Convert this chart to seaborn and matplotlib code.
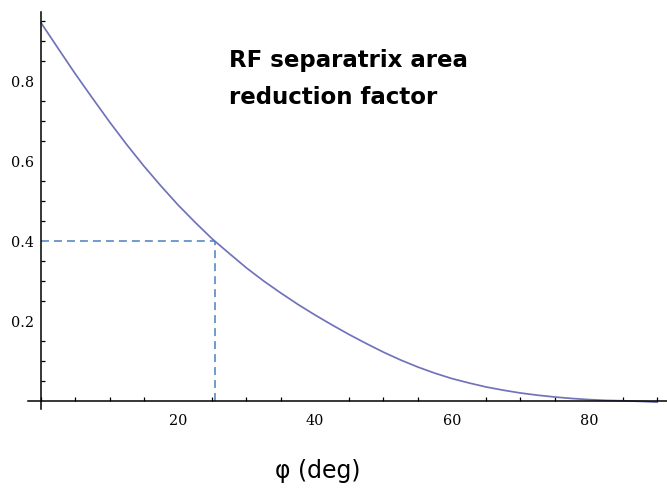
import numpy as np
import pandas as pd
import matplotlib
matplotlib.use("Agg")
import matplotlib.pyplot as plt
from matplotlib.ticker import MultipleLocator, FixedLocator
import seaborn as sns

# Synchronous phase (deg) and the RF bucket area reduction factor
phi_deg = [0, 2.5, 5, 7.5, 10, 12.5, 15, 17.5, 20, 22.5, 25, 27.5, 30, 32.5,
           35, 37.5, 40, 42.5, 45, 47.5, 50, 52.5, 55, 57.5, 60, 62.5, 65,
           67.5, 70, 72.5, 75, 77.5, 80, 82.5, 85, 87.5, 90]
area_factor = [0.945, 0.881, 0.8175, 0.757, 0.6975, 0.641, 0.5875, 0.5375,
               0.490, 0.4465, 0.405, 0.3685, 0.3325, 0.300, 0.270, 0.2415,
               0.215, 0.190, 0.166, 0.1435, 0.122, 0.1025, 0.085, 0.0695,
               0.056, 0.045, 0.035, 0.027, 0.020, 0.0145, 0.010, 0.0063,
               0.0035, 0.0015, 0.0005, -0.001, -0.003]

# Operating point marked with dashed guide lines
phi_mark = 25.4
alpha_mark = 0.40

x_major = [20, 40, 60, 80]
y_major = [0.2, 0.4, 0.6, 0.8]

sns.set_theme(style="white")
plt.rcParams["font.family"] = ["DejaVu Sans"]

df = pd.DataFrame({"phi": phi_deg, "alpha": area_factor})

W, H = 667, 489
fig = plt.figure(figsize=(W / 100, H / 100), dpi=100)
fig.patch.set_facecolor("white")
ax = fig.add_axes([28 / W, (H - 410) / H, (W - 28) / W, (410 - 13) / H])
ax.set_facecolor("white")

sns.lineplot(data=df, x="phi", y="alpha", ax=ax, color="#7272bb",
             linewidth=1.25, clip_on=False)

dash_kw = dict(color="#4a7ebf", linewidth=1.1, linestyles=(0, (5.2, 3.3)))
ax.hlines(alpha_mark, 0, phi_mark, **dash_kw)
ax.vlines(phi_mark, 0, alpha_mark, **dash_kw)

ax.set_xlim(-1.9, 91.4)
ax.set_ylim(-0.02, 0.972)

for side in ("top", "right"):
    ax.spines[side].set_visible(False)
for side in ("left", "bottom"):
    ax.spines[side].set_position(("data", 0))
    ax.spines[side].set_color("black")
    ax.spines[side].set_linewidth(1.1)

ax.xaxis.set_major_locator(FixedLocator(x_major))
ax.xaxis.set_minor_locator(MultipleLocator(5))
ax.yaxis.set_major_locator(FixedLocator(y_major))
ax.yaxis.set_minor_locator(FixedLocator([v for v in np.arange(0.05, 0.96, 0.05)
                                         if min(abs(v - m) for m in y_major) > 1e-6]))
ax.set_xticklabels([str(v) for v in x_major])
ax.set_yticklabels([f"{v:.1f}" for v in y_major])

ax.tick_params(axis="both", which="both", direction="in", color="black",
               width=0.9, labelsize=10.4, labelcolor="black")
ax.tick_params(axis="both", which="major", length=5)
ax.tick_params(axis="both", which="minor", length=2.8)
ax.tick_params(axis="x", which="major", pad=8.5)
ax.tick_params(axis="y", which="major", pad=5)
ax.tick_params(axis="x", which="minor", bottom=True)
ax.tick_params(axis="y", which="minor", left=True)
for lbl in ax.get_xticklabels() + ax.get_yticklabels():
    lbl.set_fontfamily("DejaVu Serif")

ax.set_xlabel("")
ax.set_ylabel("")
ax.grid(False)

fig.text(229 / W, (H - 67) / H, "RF separatrix area", fontsize=16.5,
         fontweight="bold", ha="left", va="baseline", color="black")
fig.text(229 / W, (H - 104) / H, "reduction factor", fontsize=16.5,
         fontweight="bold", ha="left", va="baseline", color="black")

fig.text(317.5 / W, (H - 478) / H, "φ (deg)", fontsize=17, ha="center",
         va="baseline", color="black")

fig.savefig("out.png", dpi=100, facecolor="white")
